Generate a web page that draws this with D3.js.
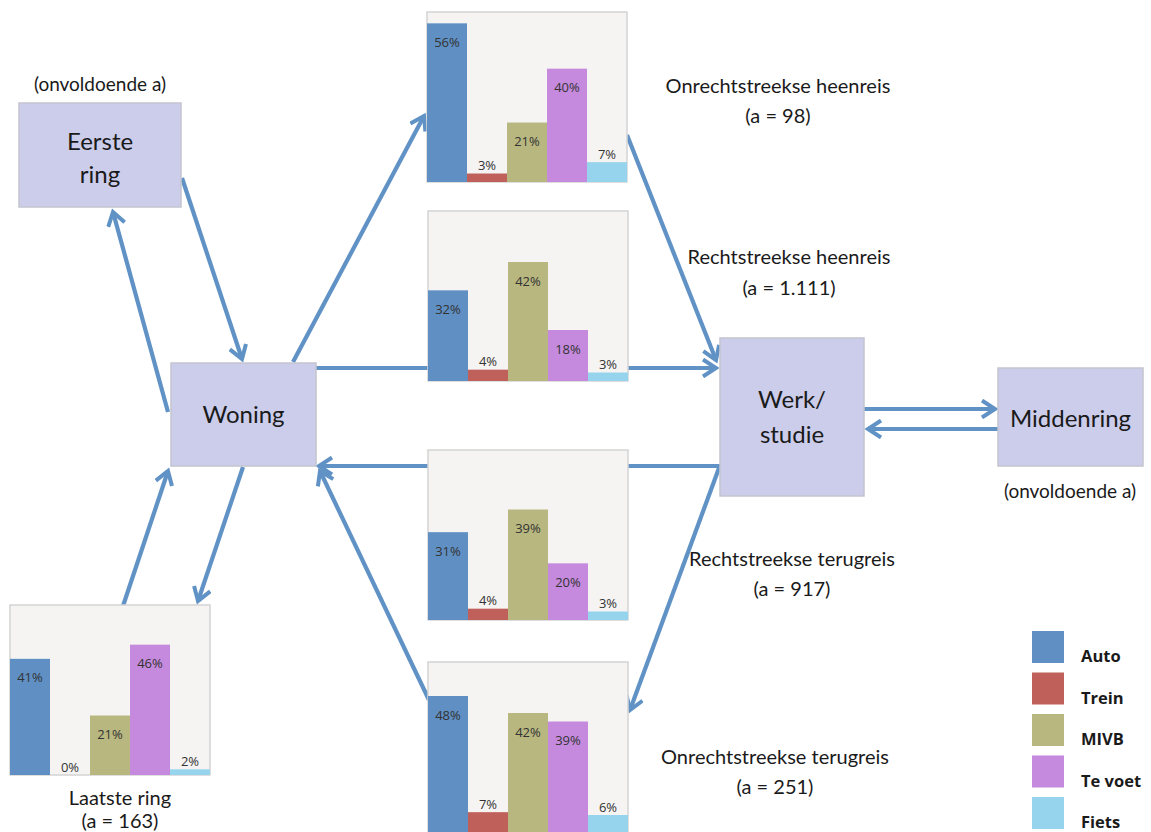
<!DOCTYPE html>
<html>
<head>
<meta charset="utf-8">
<script src="https://cdn.jsdelivr.net/npm/d3@7"></script>
<style>
  html, body { margin: 0; padding: 0; background: #ffffff; }
  svg { display: block; }
  text { fill: #1a1a1a; }
</style>
</head>
<body>
<svg id="chart" width="1151" height="832"></svg>
<script>
// Transport modes and their colours
const modes = ["Auto", "Trein", "MIVB", "Te voet", "Fiets"];
const modeColors = ["#5f8fc3", "#c0605a", "#b7b77f", "#c58add", "#96d3ec"];

// Mode shares (%) per trip type
const onrechtstreekseHeenreis = [56, 3, 21, 40, 7];
const rechtstreekseHeenreis   = [32, 4, 42, 18, 3];
const rechtstreekseTerugreis  = [31, 4, 39, 20, 3];
const onrechtstreekseTerugreis = [48, 7, 42, 39, 6];
const laatsteRing             = [41, 0, 21, 46, 2];

const tripTitles = ["Onrechtstreekse heenreis", "Rechtstreekse heenreis", "Rechtstreekse terugreis", "Onrechtstreekse terugreis", "Laatste ring"];
const tripCounts = ["98", "1.111", "917", "251", "163"];

const nodeNames = [["Eerste", "ring"], ["Woning"], ["Werk/", "studie"], ["Middenring"]];
const shortNote = "(onvoldoende a)";

const LABEL_FONT = "Lato, 'Open Sans', sans-serif";
const SMALL_FONT = "'Open Sans', 'Noto Sans', sans-serif";

const svg = d3.select("#chart");

const ARROW = "#6092c5";
const NODE_FILL = "#cbcdeb";
const NODE_STROKE = "#c3c4cf";

// open chevron arrow head
const defs = svg.append("defs");
defs.append("marker")
  .attr("id", "head")
  .attr("markerUnits", "userSpaceOnUse")
  .attr("viewBox", "-16 -10 20 20")
  .attr("refX", 0).attr("refY", 0)
  .attr("markerWidth", 20).attr("markerHeight", 20)
  .attr("orient", "auto")
  .append("path")
  .attr("d", "M-13,-8.5 L0,0 L-13,8.5")
  .attr("fill", "none")
  .attr("stroke", ARROW)
  .attr("stroke-width", 4)
  .attr("stroke-linejoin", "miter");

// connections: [x1, y1, x2, y2]
const links = [
  [182, 178, 242, 359],   // Eerste ring -> Woning
  [168, 412, 113, 212],   // Woning -> Eerste ring
  [293, 362, 424, 116],   // Woning -> onrechtstreekse heen
  [627, 135, 716, 360],   // onrechtstreekse heen -> Werk
  [316, 368, 716, 368],   // Woning -> Werk (rechtstreeks)
  [720, 466, 319, 466],   // Werk -> Woning (rechtstreeks)
  [719, 468, 630, 710],   // Werk -> onrechtstreekse terug
  [429, 700, 320, 471],   // onrechtstreekse terug -> Woning
  [243, 467, 198, 601],   // Woning -> laatste ring
  [123, 606, 168, 471],   // laatste ring -> Woning
  [864, 409, 995, 409],   // Werk -> Middenring
  [998, 429, 868, 429]    // Middenring -> Werk
];

const line = d3.line();
svg.append("g").selectAll("path")
  .data(links)
  .join("path")
  .attr("d", d => line([[d[0], d[1]], [d[2], d[3]]]))
  .attr("fill", "none")
  .attr("stroke", ARROW)
  .attr("stroke-width", 4.2)
  .attr("marker-end", "url(#head)");

// location boxes
const nodeBoxes = [
  { x: 19, y: 103, w: 162, h: 104, lines: nodeNames[0], base: [150, 183] },
  { x: 171, y: 363, w: 145, h: 103, lines: nodeNames[1], base: [423] },
  { x: 720, y: 338, w: 144, h: 158, lines: nodeNames[2], base: [408, 443] },
  { x: 998, y: 368, w: 145, h: 98, lines: nodeNames[3], base: [427] }
];
const nodes = svg.append("g").selectAll("g").data(nodeBoxes).join("g");
nodes.append("rect")
  .attr("x", d => d.x).attr("y", d => d.y)
  .attr("width", d => d.w).attr("height", d => d.h)
  .attr("fill", NODE_FILL).attr("stroke", NODE_STROKE).attr("stroke-width", 1.5);
nodes.each(function (d) {
  d3.select(this).selectAll("text.nl")
    .data(d.lines)
    .join("text")
    .attr("class", "nl")
    .attr("x", d.x + d.w / 2)
    .attr("y", (t, i) => d.base[i])
    .attr("text-anchor", "middle")
    .style("font-family", LABEL_FONT)
    .style("font-size", "24px")
    .text(t => t);
});

[[100, 91], [1070, 498]].forEach(([tx, ty]) => {
  svg.append("text").attr("x", tx).attr("y", ty).attr("text-anchor", "middle")
    .style("font-family", LABEL_FONT).style("font-size", "19px").text(shortNote);
});

// bar chart panels
const PW = 200, PH = 170;
const x = d3.scaleBand().domain(modes).range([0, PW]).padding(0);
const y = d3.scaleLinear().domain([0, 60]).range([PH, 0]);
const color = d3.scaleOrdinal().domain(modes).range(modeColors);

const panels = [
  { values: onrechtstreekseHeenreis, px: 427, py: 12, tx: 778, ty: [93, 123] },
  { values: rechtstreekseHeenreis, px: 428, py: 211, tx: 789, ty: [264, 295] },
  { values: rechtstreekseTerugreis, px: 428, py: 450, tx: 792, ty: [566, 596] },
  { values: onrechtstreekseTerugreis, px: 428, py: 662, tx: 775, ty: [764, 794] },
  { values: laatsteRing, px: 10, py: 605, tx: 120, ty: [805, 828] }
];

panels.forEach((p, k) => {
  const g = svg.append("g").attr("transform", `translate(${p.px},${p.py})`);
  g.append("rect").attr("x", 0).attr("y", 0).attr("width", PW).attr("height", PH)
    .attr("fill", "#f5f4f2").attr("stroke", "#d4d4d4").attr("stroke-width", 1.5);
  const rows = modes.map((m, i) => ({ mode: m, v: p.values[i] }));
  g.selectAll("rect.bar").data(rows).join("rect")
    .attr("class", "bar")
    .attr("x", d => x(d.mode))
    .attr("y", d => y(d.v))
    .attr("width", x.bandwidth())
    .attr("height", d => PH - y(d.v))
    .attr("fill", d => color(d.mode));
  g.selectAll("text.val").data(rows).join("text")
    .attr("class", "val")
    .attr("x", d => x(d.mode) + x.bandwidth() / 2)
    .attr("y", d => d.v < 10 ? y(d.v) - 3.5 : y(d.v) + 23.5)
    .attr("text-anchor", "middle")
    .style("font-family", SMALL_FONT)
    .style("font-size", "13px")
    .style("fill", "#333")
    .text(d => d.v + "%");

  svg.append("text").attr("x", p.tx).attr("y", p.ty[0]).attr("text-anchor", "middle")
    .style("font-family", LABEL_FONT).style("font-size", "20px").text(tripTitles[k]);
  svg.append("text").attr("x", p.tx).attr("y", p.ty[1]).attr("text-anchor", "middle")
    .style("font-family", LABEL_FONT).style("font-size", "20px").text(`(a = ${tripCounts[k]})`);
});

// legend
const legend = svg.append("g").attr("transform", "translate(1032,631)");
const lg = legend.selectAll("g").data(modes).join("g")
  .attr("transform", (d, i) => `translate(0,${i * 41.5})`);
lg.append("rect").attr("width", 32).attr("height", 32).attr("fill", d => color(d));
lg.append("text").attr("x", 49).attr("y", 31)
  .style("font-family", SMALL_FONT)
  .style("font-weight", "700").style("font-size", "16.5px")
  .text(d => d);
</script>
</body>
</html>
